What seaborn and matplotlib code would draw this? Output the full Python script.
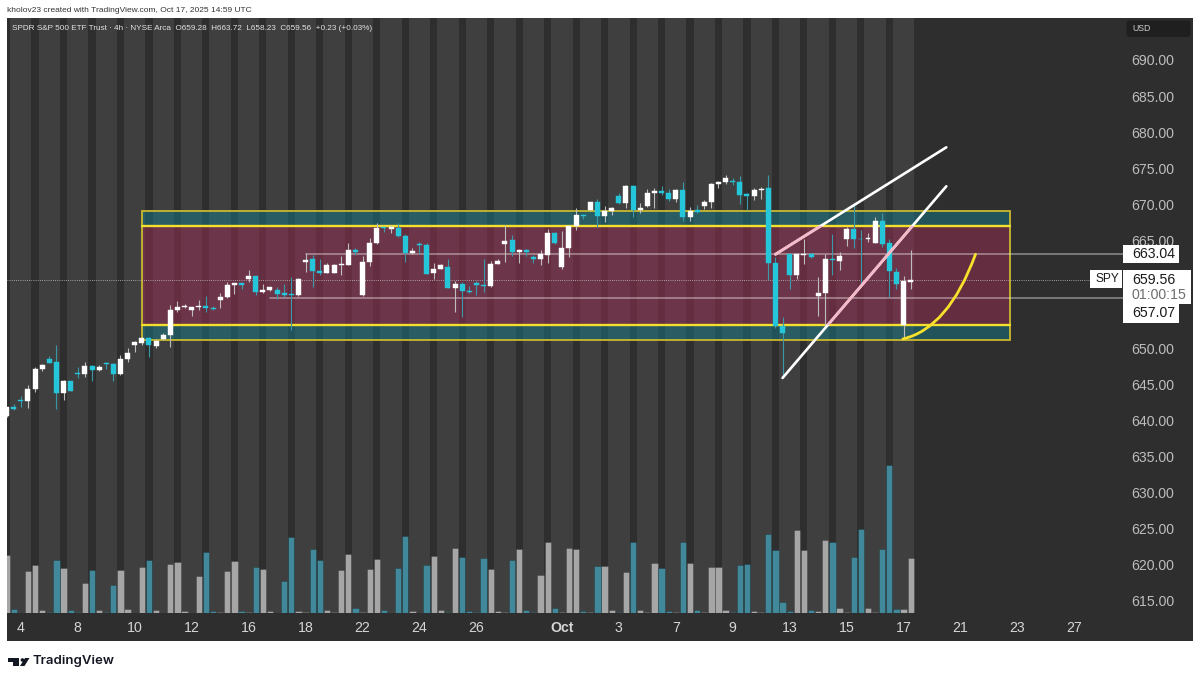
import numpy as np
import pandas as pd
import matplotlib
matplotlib.use("Agg")
import matplotlib.pyplot as plt
import seaborn as sns
from matplotlib.patches import Rectangle, PathPatch, Polygon, Circle, FancyBboxPatch
from matplotlib.path import Path

# ---------- data ----------
bars = np.arange(-1, 127)

opens = [640.65,
 641.89,642.87,642.68,644.39,647.16,648.50,648.13,643.88,645.45,646.65,
 646.52,647.63,647.02,648.00,647.86,646.47,648.55,650.54,650.81,651.51,
 650.40,651.37,651.92,655.39,655.80,655.30,655.80,655.85,655.62,656.73,
 657.15,658.81,659.09,659.64,660.05,657.84,658.11,658.11,657.65,657.56,
 657.38,662.04,662.37,660.75,660.47,660.47,661.58,661.63,663.71,657.38,
 661.95,664.58,666.80,666.57,666.76,665.55,663.24,664.54,664.31,660.43,
 661.07,661.26,658.35,658.95,658.02,659.13,658.76,658.71,661.72,664.49,
 665.00,663.34,663.61,662.69,662.41,663.01,666.06,661.26,663.94,667.03,
 668.51,669.20,670.27,668.37,669.11,671.19,670.18,672.53,669.25,669.71,
 671.56,671.79,671.61,670.68,671.98,668.28,669.16,669.81,670.31,672.76,
 673.04,673.18,673.04,671.38,671.19,671.98,672.21,661.81,653.12,663.06,
 660.24,662.97,663.06,657.28,657.75,662.37,662.18,665.14,666.53,665.23,
 665.19,664.68,667.63,664.58,660.66,653.22,659.28]

closes = [641.90,
 641.62,642.68,644.44,647.16,647.67,648.04,643.88,645.45,644.16,646.52,
 647.63,646.98,647.44,647.81,646.47,648.50,649.34,650.91,651.51,650.44,
 651.09,651.92,655.39,655.76,655.94,655.71,655.94,655.57,655.43,657.10,
 658.81,659.04,658.85,660.10,657.88,658.11,658.53,657.61,657.47,657.47,
 659.69,662.27,660.75,660.52,661.53,661.58,661.67,663.61,663.43,661.95,
 664.58,666.71,666.71,666.80,665.55,663.24,663.57,664.40,660.38,661.07,
 661.58,658.44,658.99,657.93,657.88,658.76,658.71,661.76,662.09,664.86,
 663.34,663.61,663.43,662.46,663.06,666.06,664.68,663.89,666.99,668.51,
 668.42,670.31,668.42,669.11,669.44,670.13,672.53,669.20,669.44,671.56,
 671.79,671.61,670.68,672.02,668.28,669.11,668.93,670.36,672.81,673.04,
 673.69,673.04,671.28,671.19,671.98,672.16,661.90,653.12,652.15,660.24,
 663.06,663.11,662.74,657.70,662.37,662.23,662.78,666.53,665.23,665.14,
 665.32,667.63,664.49,660.70,658.95,659.36,659.56]

highs = [641.90,
 642.26,643.42,644.94,647.49,647.86,649.01,650.44,645.64,645.50,647.39,
 648.09,647.67,647.76,648.09,647.95,649.06,650.12,651.04,651.65,651.65,
 651.28,652.15,656.03,656.59,656.17,655.76,656.73,657.33,655.85,657.74,
 659.27,659.09,659.09,660.89,660.10,658.95,658.58,658.48,658.90,659.87,
 659.73,663.29,663.01,662.41,661.81,661.67,662.83,664.58,663.98,662.87,
 665.28,667.36,666.89,667.13,667.36,665.88,663.89,664.72,664.58,661.81,
 661.76,662.41,659.36,659.22,658.71,659.36,662.41,662.18,662.37,667.13,
 665.74,663.84,663.80,662.92,663.66,666.62,666.20,666.25,667.13,669.44,
 668.65,670.36,670.78,669.76,669.57,671.52,672.67,672.62,670.13,672.12,
 672.21,672.53,672.07,672.12,673.13,669.57,669.90,670.59,672.95,673.22,
 674.06,673.59,673.96,671.61,672.21,672.35,674.06,662.74,654.37,663.06,
 663.06,665.23,663.20,659.87,663.11,665.88,663.43,666.80,670.13,666.43,
 666.06,668.19,668.74,665.14,661.12,660.06,663.72]

lows = [640.50,
 641.48,641.94,641.76,644.02,646.93,647.95,641.57,642.87,644.11,645.87,
 646.01,645.50,646.84,647.16,645.50,646.38,648.18,649.52,650.49,648.87,
 650.12,651.18,650.26,655.07,655.62,654.56,655.34,655.11,655.39,655.57,
 657.05,657.61,658.25,659.27,657.42,657.65,658.02,656.82,657.14,652.57,
 657.33,660.66,658.48,660.19,660.43,660.43,660.19,661.53,662.97,657.33,
 661.44,664.54,666.15,665.97,665.51,662.04,663.06,663.10,660.29,659.69,
 660.98,658.35,655.11,654.42,657.74,657.42,657.88,658.53,661.67,662.04,
 662.87,661.90,662.87,661.90,661.63,661.81,664.49,661.03,662.69,666.43,
 668.00,669.11,666.80,667.54,668.51,670.08,669.53,668.19,668.74,669.67,
 669.48,671.33,670.50,670.36,667.68,667.73,668.74,669.39,669.48,672.21,
 672.86,672.62,670.04,669.25,670.59,670.73,659.50,652.89,646.33,658.21,
 659.59,661.72,662.51,654.51,653.12,660.20,660.89,664.22,663.98,659.04,
 664.82,664.68,664.03,657.19,658.21,651.41,658.23]

volumes = [29,
 2,0.2,21.2,24,1.7,0.3,26.7,22.3,1.5,0.3,
 15,21.3,1.7,0.3,14.2,21.5,2,0.2,23,26.7,
 1.3,0.2,24.3,25.5,1.2,0.2,18.7,30.3,1.2,0.5,
 21.2,26.2,1.2,0.3,23,21.8,1,0.2,16,38.2,
 1.2,0.7,32,26.5,1.5,0.3,21.5,29.3,2.5,0.3,
 22,26.8,1.3,0.2,22.5,38.3,1.2,0.2,24,28.5,
 1.3,0.5,32.5,28.2,1.2,0.5,27.3,22,1.2,0.7,
 26.7,32,1.3,0.5,19,35.3,2.7,0.7,32.7,32,
 1.2,0.5,23.7,23.7,1.7,0.5,20.7,35.5,1.7,0.7,
 25.2,22.5,1.2,0.3,35.5,25,1.3,0.5,23,23,
 1.7,0.3,24,24.7,1.2,0.7,39.3,31.5,5.5,1.2,
 41.3,31.5,1.7,1.2,36.7,35.5,2.5,0.7,28.2,42.2,
 2.7,0.7,32,74.2,2,1.8,27.5]

price_ticks = [615, 620, 625, 630, 635, 640, 645, 650, 655, 660, 665, 670, 675, 680, 685, 690]
date_positions = [1, 9, 17, 25, 33, 41, 49, 57, 65, 77, 85, 93, 101, 109, 117, 125, 133, 141, 149]
date_labels = ["4", "8", "10", "12", "16", "18", "22", "24", "26", "Oct", "3", "7", "9", "13", "15", "17", "21", "23", "27"]

zone_top, zone_inner_top, zone_inner_bottom, zone_bottom = 669.0, 667.03, 653.2, 651.2
zone_start, zone_end = 18, 140
level_high, level_low, last_price = 663.04, 657.07, 659.56
level_high_start, level_low_start = 41, 36
upper_trend_x, upper_trend_y = [107, 131], [663.06, 677.89]
lower_trend_x, lower_trend_y = [108, 131], [645.92, 672.49]
arc_x, arc_y = [124.9, 131.3, 135.1], [651.32, 652.80, 663.06]

# ---------- style ----------
sns.set_theme(style="dark")
plt.rcParams["font.family"] = ["Liberation Sans", "DejaVu Sans"]
PANE, LIGHT = "#2e2e2e", "#3f3f3f"
UP, DOWN = "#ffffff", "#26c6da"
W, H = 1200, 681
pane_l, pane_r, pane_t, pane_b = 7, 1123, 18, 613
xlim = (-0.941, 155.82)
ylim = (613.33, 695.82)

fig = plt.figure(figsize=(12, 6.81), dpi=100, facecolor="white")
# frame of the whole chart, behind everything
bg = fig.add_axes([0, 0, 1, 1], zorder=0)
bg.set_xlim(0, W); bg.set_ylim(H, 0); bg.axis("off")
bg.add_patch(Rectangle((7, 18), 1186, 623, fc=PANE, ec="none"))

rect = [pane_l / W, 1 - pane_b / H, (pane_r - pane_l) / W, (pane_b - pane_t) / H]

# ---------- session stripes and volume ----------
ax_vol = fig.add_axes(rect, zorder=1)
ax_vol.set_facecolor("none")
for d in np.arange(-1, 127, 4):
    ax_vol.axvspan(d + 0.5, d + 3.5, color=LIGHT, lw=0, zorder=0)

opens_a, closes_a = np.array(opens), np.array(closes)
df = pd.DataFrame({"bar": bars, "volume": volumes,
                   "dir": np.where(closes_a >= opens_a, "up", "down")})
sns.barplot(data=df, x="bar", y="volume", hue="dir", hue_order=["up", "down"],
            palette={"up": "#a6a6a6", "down": "#41899a"}, native_scale=True,
            dodge=False, width=0.88, legend=False, saturation=1,
            errorbar=None, ax=ax_vol, zorder=2, linewidth=0.5, edgecolor="#00000040")
ax_vol.set_xlim(*xlim)
ax_vol.set_ylim(0, 297.5)
ax_vol.axis("off")

# ---------- price pane ----------
ax = fig.add_axes(rect, zorder=2)
ax.set_facecolor("none")
ax.set_xlim(*xlim)
ax.set_ylim(*ylim)
for s in ax.spines.values():
    s.set_visible(False)
ax.grid(False)

# zones
zw = zone_end - zone_start
ax.add_patch(Rectangle((zone_start, zone_inner_bottom), zw, zone_inner_top - zone_inner_bottom,
                       fc="#9c2d53", alpha=0.5, ec="none", zorder=1))
red_clip = Rectangle((zone_start, zone_inner_bottom), zw, zone_inner_top - zone_inner_bottom,
                     transform=ax.transData)
for lo, hi in ((zone_inner_top, zone_top), (zone_bottom, zone_inner_bottom)):
    ax.add_patch(Rectangle((zone_start, lo), zw, hi - lo, fc="#177989", alpha=0.5, ec="none", zorder=1))
ax.add_patch(Rectangle((zone_start, zone_bottom), zw, zone_top - zone_bottom,
                       fc="none", ec="#c9b92d", lw=1.3, zorder=2))
for lev in (zone_inner_top, zone_inner_bottom):
    ax.plot([zone_start, zone_end], [lev, lev], color="#f2df2e", lw=1.7, zorder=2.1)

# horizontal levels
ax.plot([level_high_start, xlim[1]], [level_high, level_high], color="white", alpha=0.45, lw=1.1, zorder=2.2)
ax.plot([level_low_start, xlim[1]], [level_low, level_low], color="white", alpha=0.45, lw=1.1, zorder=2.2)
ax.plot([xlim[0], 151.2], [last_price, last_price], color="#c4c4c4", lw=0.6, ls=(0, (1, 1.6)), zorder=2.2)

# candles
up = closes_a >= opens_a
highs_a, lows_a = np.array(highs), np.array(lows)
ax.vlines(bars[up], lows_a[up], highs_a[up], color="#bdbdbd", lw=0.8, zorder=3)
ax.vlines(bars[~up], lows_a[~up], highs_a[~up], color="#3a98a8", lw=0.8, zorder=3)
body_bottom = np.minimum(opens_a, closes_a)
body_h = np.abs(closes_a - opens_a)
ax.bar(bars[up], body_h[up], bottom=body_bottom[up], width=0.7, color=UP, edgecolor=UP, lw=0.3, zorder=4)
ax.bar(bars[~up], body_h[~up], bottom=body_bottom[~up], width=0.7, color=DOWN, edgecolor=DOWN, lw=0.3, zorder=4)

# trend lines (pink where they cross the red zone)
for tx, ty in ((upper_trend_x, upper_trend_y), (lower_trend_x, lower_trend_y)):
    ax.plot(tx, ty, color="white", lw=1.9, zorder=5, solid_capstyle="round")
    pink, = ax.plot(tx, ty, color="#f5b9ca", lw=2.0, zorder=5.1, solid_capstyle="round")
    pink.set_clip_path(red_clip)

# yellow arc
arc = PathPatch(Path(list(zip(arc_x, arc_y)), [Path.MOVETO, Path.CURVE3, Path.CURVE3]),
                fc="none", ec="#f7e12a", lw=2.0, zorder=5.2, capstyle="round")
ax.add_patch(arc)

# axis labels
ax.yaxis.tick_right()
ax.set_yticks(price_ticks)
ax.set_yticklabels([f"{v:.2f}" for v in price_ticks], fontsize=10.2, color="#bdbdbd")
ax.tick_params(axis="y", length=0, pad=6.3)
ax.set_xticks(date_positions)
ax.set_xticklabels(date_labels, fontsize=10.2, color="#d6d6d6")
ax.tick_params(axis="x", length=0, pad=5.6)
for lab in ax.get_xticklabels():
    if lab.get_text() == "Oct":
        lab.set_fontweight("bold")

# ---------- overlay text and price tags ----------
ov = fig.add_axes([0, 0, 1, 1], zorder=3)
ov.set_xlim(0, W); ov.set_ylim(H, 0); ov.axis("off"); ov.set_facecolor("none")

ov.text(7, 10, "kholov23 created with TradingView.com, Oct 17, 2025 14:59 UTC",
        fontsize=6.0, color="#333333", va="center", ha="left")
ov.text(12, 28, "SPDR S&P 500 ETF Trust · 4h · NYSE Arca  O659.28  H663.72  L658.23  C659.56  +0.23 (+0.03%)",
        fontsize=5.9, color="#e2e2e2", va="center", ha="left")

ov.add_patch(FancyBboxPatch((1128, 22), 61, 13.5, boxstyle="round,pad=1.5,rounding_size=3",
                            fc="#1f1f1f", ec="none"))
ov.text(1132, 28.7, "USD", fontsize=6.3, color="#cfcfcf", va="center", ha="left")

def tag(x0, y0, x1, y1):
    ov.add_patch(Rectangle((x0, y0), x1 - x0, y1 - y0, fc="white", ec="none"))

tag(1123.3, 245, 1179.3, 263.3)
tag(1090, 270, 1121.7, 288.3)
tag(1123.3, 270, 1190.7, 304)
tag(1123.3, 304, 1179.3, 322.7)
ov.text(1132, 254.3, "663.04", fontsize=10.2, color="#1a1a1a", va="center", ha="left")
ov.text(1095, 279.3, "SPY", fontsize=8.6, color="#1a1a1a", va="center", ha="left")
ov.text(1132, 279.5, "659.56", fontsize=10.2, color="#1a1a1a", va="center", ha="left")
ov.text(1132, 295.3, "01:00:15", fontsize=10.2, color="#6e6e6e", va="center", ha="left")
ov.text(1132, 313.3, "657.07", fontsize=10.2, color="#1a1a1a", va="center", ha="left")

# TradingView mark
ov.add_patch(Polygon([(8, 658), (19.3, 658), (19.3, 666), (13, 666), (13, 661.5), (8, 661.5)],
                     fc="#131722", ec="none"))
ov.add_patch(Circle((22.4, 660), 1.8, fc="#131722", ec="none"))
ov.add_patch(Polygon([(25, 658), (29.5, 658), (24.5, 666), (20, 666)], fc="#131722", ec="none"))
ov.text(32.5, 661.3, "TradingView", fontsize=9.5, color="#131722", va="center", ha="left",
        fontweight="semibold", family=["Inter", "DejaVu Sans"])

fig.savefig("out.png", dpi=100, facecolor="white")
